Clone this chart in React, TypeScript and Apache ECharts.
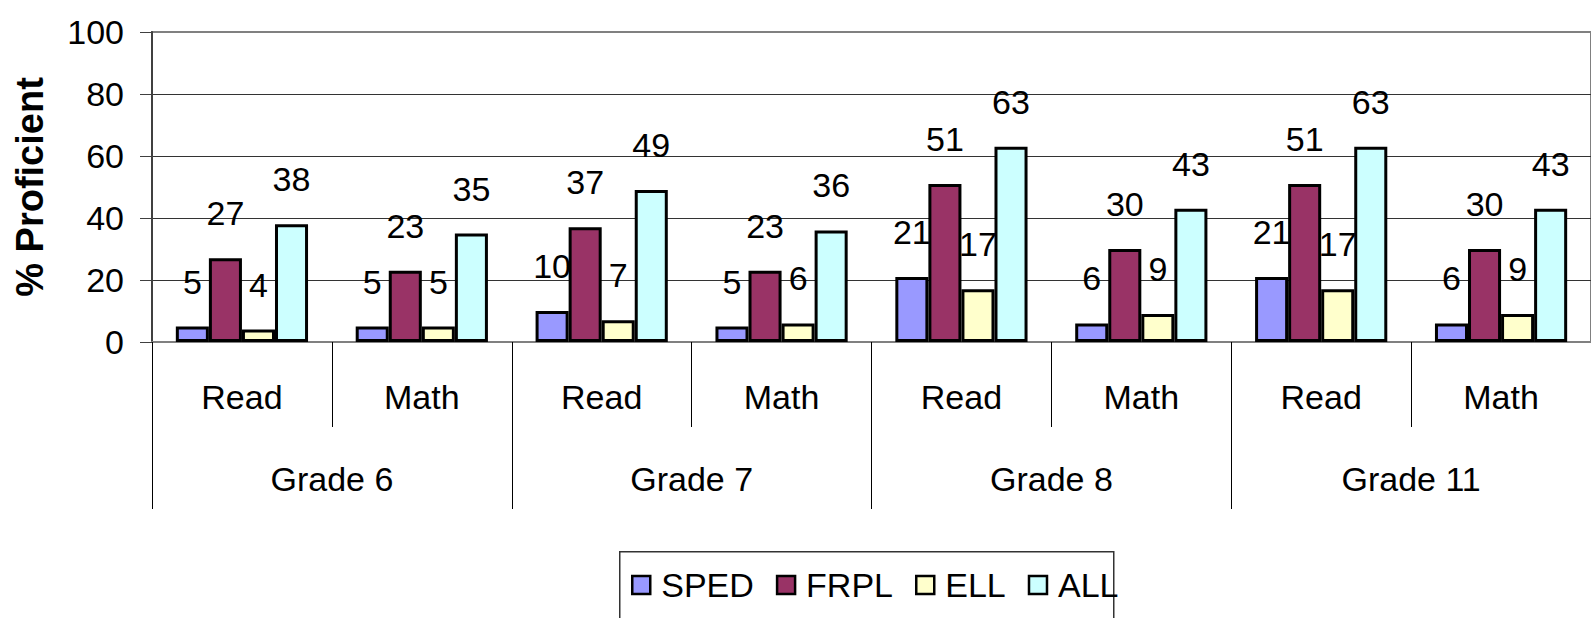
import React, { useEffect, useRef } from "react";
import * as echarts from "echarts";

const subjects = ["Read", "Math", "Read", "Math", "Read", "Math", "Read", "Math"];
const grades = ["Grade 6", "Grade 7", "Grade 8", "Grade 11"];
const seriesNames = ["SPED", "FRPL", "ELL", "ALL"];
const sped = [5, 5, 10, 5, 21, 6, 21, 6];
const frpl = [27, 23, 37, 23, 51, 30, 51, 30];
const ell = [4, 5, 7, 6, 17, 9, 17, 9];
const all = [38, 35, 49, 36, 63, 43, 63, 43];
const colors = ["#9999FF", "#993366", "#FFFFCC", "#CCFFFF"];
const yTicks = { min: 0, max: 100, interval: 20 };

const FONT = "'Liberation Sans', Arial, sans-serif";
const FS = 34;

export default function App() {
  const ref = useRef<HTMLDivElement>(null);
  useEffect(() => {
    if (!ref.current) return;
    const chart = echarts.init(ref.current, null, { renderer: "svg" });
    const values = [sped, frpl, ell, all];
    chart.setOption({
      animation: false,
      backgroundColor: "#ffffff",
      textStyle: { fontFamily: FONT },
      grid: {
        left: 152,
        top: 32,
        width: 1444,
        bottom: 276,
        show: true,
        borderColor: "#808080",
        borderWidth: 2,
        backgroundColor: "transparent",
      },
      legend: {
        data: seriesNames,
        left: 631,
        top: 568,
        padding: 0,
        itemWidth: 18,
        itemHeight: 18,
        itemGap: 22,
        icon: "rect",
        itemStyle: { borderColor: "#000", borderWidth: 2.5 },
        textStyle: { fontSize: FS, color: "#000", fontFamily: FONT, padding: [0, 0, 0, 6] },
      },
      xAxis: [
        {
          type: "category",
          data: subjects,
          position: "bottom",
          axisLine: { show: true, lineStyle: { color: "#808080", width: 2 } },
          axisTick: { show: true, interval: 0, length: 85, lineStyle: { color: "#000", width: 1 } },
          axisLabel: { interval: 0, margin: 38, fontSize: FS, color: "#000", fontFamily: FONT },
          splitLine: { show: false },
        },
        {
          type: "category",
          data: grades,
          position: "bottom",
          offset: 0,
          axisLine: { show: false },
          axisTick: { show: true, interval: 0, length: 167, lineStyle: { color: "#000", width: 1 } },
          axisLabel: { interval: 0, margin: 120, fontSize: FS, color: "#000", fontFamily: FONT },
          splitLine: { show: false },
        },
      ],
      yAxis: {
        type: "value",
        min: yTicks.min,
        max: yTicks.max,
        interval: yTicks.interval,
        name: "% Proficient",
        nameLocation: "middle",
        nameRotate: 90,
        nameGap: 103,
        nameTextStyle: { fontSize: 38, fontWeight: "bold", color: "#000", fontFamily: FONT },
        axisLine: { show: true, lineStyle: { color: "#404040", width: 2 } },
        axisTick: { show: true, inside: false, length: 12, lineStyle: { color: "#404040", width: 1 } },
        axisLabel: { margin: 28, fontSize: FS, color: "#000", fontFamily: FONT },
        splitLine: { show: true, showMinLine: false, showMaxLine: false, lineStyle: { color: "#333", width: 1 } },
      },
      graphic: [
        {
          type: "rect",
          left: 619,
          top: 551,
          shape: { width: 494, height: 90 },
          style: { fill: "transparent", stroke: "#333", lineWidth: 1.5 },
          z: -1,
        },
      ],
      series: seriesNames.map((name, i) => ({
        name,
        type: "bar",
        xAxisIndex: 0,
        data: values[i],
        barGap: "0%",
        barCategoryGap: "26.5%",
        itemStyle: { color: colors[i], borderColor: "#000", borderWidth: 3 },
        label: {
          show: true,
          position: "top",
          distance: 28,
          fontSize: FS,
          color: "#000",
          fontFamily: FONT,
        },
      })),
    });
    return () => chart.dispose();
  }, []);
  return (
    <div
      ref={ref}
      style={{ position: "absolute", left: 0, top: 0, width: 1591, height: 618 }}
    />
  );
}
